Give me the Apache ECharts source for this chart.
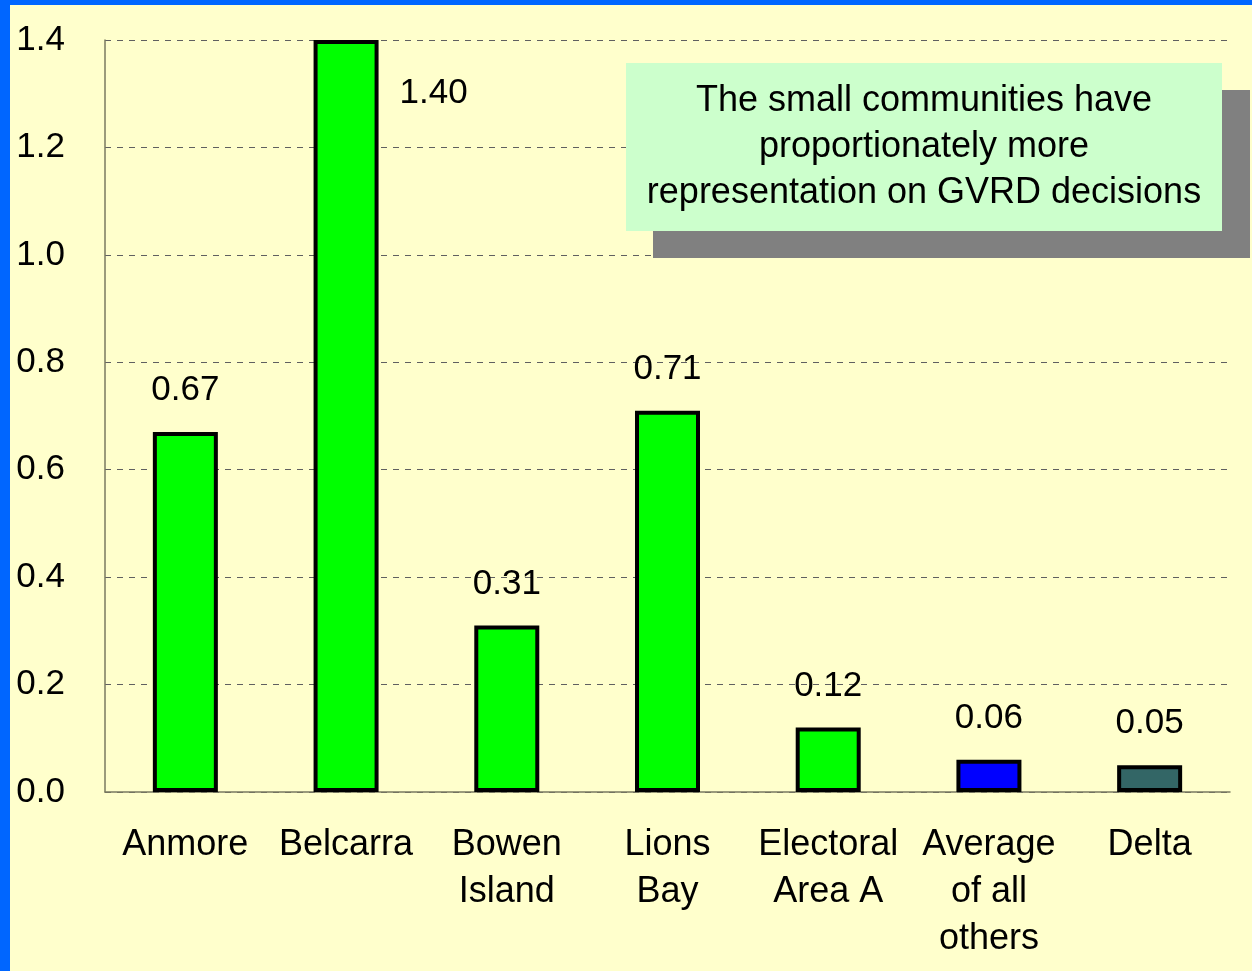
<!DOCTYPE html>
<html>
<head>
<meta charset="utf-8">
<script src="https://cdn.jsdelivr.net/npm/echarts@6/dist/echarts.min.js"></script>
<style>
  html, body { margin: 0; padding: 0; background: #ffffcc; }
  #barChart {
    width: 1252px; height: 971px; box-sizing: border-box;
    border-left: 10px solid #0066ff; border-top: 5px solid #0066ff;
    background: #ffffcc;
  }
</style>
</head>
<body>
<div id="barChart"></div>
<script>
// categories
const places = ['Anmore', 'Belcarra', 'Bowen\nIsland', 'Lions\nBay', 'Electoral\nArea A', 'Average\nof all\nothers', 'Delta']
// representation values
const repValues = [0.67, 1.40, 0.31, 0.71, 0.12, 0.06, 0.05]
// bar colours
const barColors = ['#00ff00', '#00ff00', '#00ff00', '#00ff00', '#00ff00', '#0000ff', '#336666']
// note text
const noteLines = ['The small communities have', 'proportionately more', 'representation on GVRD decisions']

const chart = echarts.init(document.getElementById('barChart'))
const font = 'Liberation Sans, Arial, sans-serif'

const barData = repValues.map((v, i) => {
  const item = {
    value: v,
    itemStyle: { color: barColors[i] }
  }
  // Belcarra label sits at the right of the bar top
  if (i === 1) {
    item.label = { position: [86, 53], align: 'left', verticalAlign: 'middle' }
  }
  return item
})

let option = {
  backgroundColor: '#ffffcc',
  animation: false,
  grid: { left: 95, right: 22, top: 35, bottom: 179 },
  xAxis: {
    type: 'category',
    data: places,
    axisTick: { show: false },
    axisLine: { lineStyle: { color: '#7a7a60', width: 1.5 } },
    axisLabel: {
      color: '#000', fontFamily: font, fontSize: 36, lineHeight: 47,
      margin: 30, interval: 0
    }
  },
  yAxis: {
    type: 'value',
    min: 0, max: 1.4, interval: 0.2,
    axisLine: { show: true, lineStyle: { color: '#7a7a60', width: 1.5 } },
    axisTick: { show: false },
    axisLabel: {
      color: '#000', fontFamily: font, fontSize: 35, margin: 40,
      formatter: v => v.toFixed(1)
    },
    splitLine: { lineStyle: { color: '#606060', type: [6, 6], width: 1 } }
  },
  series: [
    {
      type: 'bar',
      barWidth: 65,
      data: barData,
      itemStyle: { borderColor: '#000', borderWidth: 4 },
      label: {
        show: true, position: 'top', distance: 24,
        color: '#000', fontFamily: font, fontSize: 35,
        formatter: p => p.value.toFixed(2)
      }
    }
  ],
  graphic: [
    { type: 'rect', shape: { x: 643, y: 85, width: 597, height: 168 }, style: { fill: '#808080' }, z: 10 },
    { type: 'rect', shape: { x: 616, y: 58, width: 596, height: 168 }, style: { fill: '#ccffcc' }, z: 11 },
    {
      type: 'text', x: 914, y: 142, z: 12,
      style: {
        text: noteLines.join('\n'), fill: '#000', font: '36px ' + font,
        align: 'center', verticalAlign: 'middle', lineHeight: 46
      }
    }
  ]
}
chart.setOption(option, true)
</script>
</body>
</html>
